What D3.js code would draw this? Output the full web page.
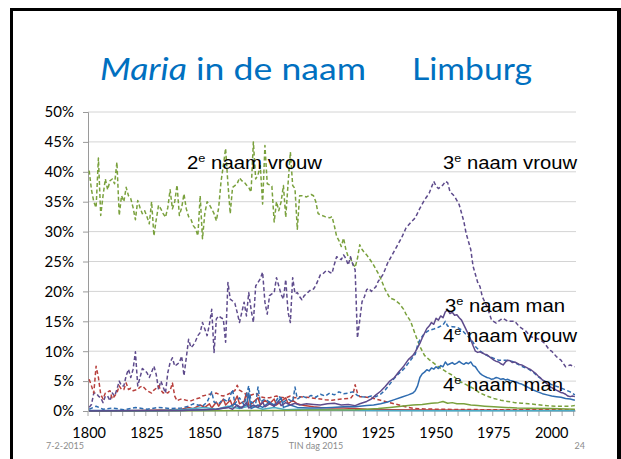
<!DOCTYPE html>
<html>
<head>
<meta charset="utf-8">
<script src="https://cdn.jsdelivr.net/npm/d3@7"></script>
<style>
  body { margin: 0; background: #fff; }
  svg { display: block; }
</style>
</head>
<body>
<svg id="chart" width="621" height="459"></svg>
<script>
// categories (years) and tick labels
const firstYear = 1800
const lastYear = 2010
const xLabels = [1800, 1825, 1850, 1875, 1900, 1925, 1950, 1975, 2000]
const yTicks = [0, 5, 10, 15, 20, 25, 30, 35, 40, 45, 50]

// [year, percent]
const vrouw1 = [[1800,5.3],[1801,4.2],[1802,3],[1803,7.5],[1804,5.6],[1805,2.8],[1806,2],[1807,3],[1808,3.2],[1809,3.4],[1810,2],[1811,2.5],[1812,3],[1813,4.2],[1814,3.6],[1815,3.6],[1816,4.7],[1817,3.6],[1818,3.8],[1819,3.4],[1820,3.5],[1821,3.6],[1822,4],[1823,4.2],[1824,3.8],[1825,3.4],[1826,3.2],[1827,3],[1828,3.5],[1829,3.8],[1830,4.2],[1831,3.5],[1832,3],[1833,3.2],[1834,3],[1835,3.4],[1836,4.7],[1837,2.5],[1838,1.7],[1839,1.9],[1840,2],[1842,1.8],[1844,1.7],[1846,2],[1848,2.2],[1849,2.5],[1851,2.7],[1852,2.8],[1854,2.9],[1855,3],[1857,2.6],[1858,2.5],[1860,2.8],[1861,3],[1863,3.4],[1864,4.3],[1865,3.5],[1867,3],[1869,2.5],[1871,2.8],[1872,3],[1874,2.4],[1876,2.2],[1878,2.2],[1880,2.4],[1881,2.5],[1883,2.3],[1885,2.2],[1887,2.5],[1889,2.2],[1891,2.4],[1894,2.3],[1898,2.1],[1902,1.9],[1905,1.8],[1909,2],[1913,2.1],[1914,2.6],[1915,4.4],[1916,3],[1917,2.4],[1920,2.3],[1923,2.1],[1926,1.8],[1928,1.6],[1931,1.3],[1934,1],[1938,0.6],[1941,0.4],[1945,0.35],[1950,0.3],[1960,0.25],[1980,0.2],[2010,0.2]]

const man1 = [[1800,0],[1820,0.1],[1835,0.2],[1840,0.3],[1843,0.6],[1845,0.4],[1848,1.0],[1850,0.6],[1852,1.2],[1853,0.5],[1855,1.5],[1856,0.8],[1858,2.0],[1859,1.0],[1861,1.8],[1862,0.8],[1864,2.5],[1865,1.2],[1867,1.6],[1868,3.0],[1869,0.8],[1871,1.5],[1873,2.2],[1874,1.0],[1876,1.8],[1878,1.2],[1880,2.0],[1881,1.0],[1883,1.6],[1885,2.2],[1886,1.2],[1888,1.8],[1890,1.2],[1893,0.9],[1897,0.7],[1900,0.6],[1905,0.5],[1910,0.5],[1915,0.4],[1920,0.3],[1930,0.2],[1950,0.15],[2010,0.1]]

const vrouw2 = [[1800,40.2],[1801,37],[1802,35],[1803,34],[1804,42.3],[1805,32.7],[1806,36],[1807,38.8],[1808,37],[1809,38.5],[1810,38.8],[1811,38],[1812,41.6],[1813,32.7],[1814,36],[1815,35],[1816,37.4],[1817,36],[1818,35.5],[1819,34],[1820,32],[1821,35.2],[1822,34],[1823,33],[1824,33.5],[1825,32.5],[1826,31.3],[1827,35],[1828,29.3],[1829,32],[1830,34.4],[1831,33.8],[1832,33],[1833,32.4],[1834,34],[1835,37],[1836,33.8],[1837,35],[1838,37.8],[1839,32.7],[1840,34],[1841,36.3],[1842,33.8],[1843,32.5],[1844,32.1],[1845,31],[1846,30.5],[1847,29.3],[1848,36],[1849,28.8],[1850,33],[1851,35],[1852,34.5],[1853,33.8],[1854,33],[1855,31.8],[1856,34],[1857,38.3],[1858,41],[1859,43.9],[1860,38],[1861,33],[1862,37.4],[1863,37.7],[1864,38],[1865,39],[1866,38.5],[1867,38.3],[1868,37.8],[1869,37.4],[1870,36.6],[1871,45],[1872,38.8],[1873,39.5],[1874,41],[1875,34.6],[1876,44.4],[1877,38],[1878,37.8],[1879,37.6],[1880,31.6],[1881,35],[1882,33.5],[1883,35],[1884,37.7],[1885,32.4],[1886,38],[1887,43.3],[1888,37.7],[1889,37.2],[1890,30.4],[1891,36],[1892,36],[1894,35.8],[1896,36.2],[1897,36],[1898,35],[1899,33],[1900,32.8],[1902,32.5],[1904,32.3],[1905,32.5],[1906,31],[1907,29.2],[1908,28.5],[1909,27.5],[1910,28.9],[1911,27],[1912,25.8],[1913,25.5],[1914,24.7],[1915,24],[1916,25.5],[1917,27.8],[1918,27],[1919,26.5],[1920,26.1],[1922,25],[1923,24.4],[1925,23],[1926,22.2],[1928,20.3],[1930,18.9],[1932,18.6],[1934,18],[1936,17],[1937,16.2],[1939,15],[1941,12.8],[1943,10.8],[1945,9.3],[1947,8.6],[1949,8],[1951,7.4],[1953,6.9],[1955,6.4],[1957,6],[1960,5],[1963,4.4],[1966,3.8],[1969,3],[1972,2.5],[1975,2.1],[1978,1.8],[1981,1.6],[1984,1.4],[1987,1.3],[1990,1.2],[1993,1.1],[1996,0.95],[1999,0.85],[2002,0.8],[2005,0.8],[2008,0.8],[2010,0.9]]

const man2 = [[1800,0],[1850,0.05],[1880,0.1],[1900,0.15],[1915,0.2],[1920,0.3],[1925,0.4],[1930,0.6],[1935,0.8],[1940,1.0],[1944,1.1],[1948,1.3],[1951,1.4],[1953,1.6],[1955,1.3],[1957,1.4],[1959,1.2],[1962,1.2],[1965,1.0],[1968,0.9],[1971,0.8],[1975,0.7],[1980,0.6],[1985,0.5],[1990,0.45],[2000,0.4],[2010,0.3]]

const vrouw3 = [[1800,0.6],[1801,1.1],[1802,3],[1803,3],[1804,2.5],[1805,2.2],[1806,1.4],[1807,2.5],[1808,2.5],[1809,1.7],[1810,3],[1811,2.5],[1812,3.6],[1813,5],[1814,4.2],[1815,4.2],[1816,5.9],[1817,7],[1818,5.6],[1819,7],[1820,9.9],[1821,4.2],[1822,5.6],[1823,7.1],[1824,6.8],[1825,6.4],[1826,5.6],[1827,6.5],[1828,7.5],[1829,6.1],[1830,3.6],[1831,5],[1832,4],[1833,3],[1834,6.4],[1835,8.1],[1836,8.9],[1837,7.5],[1838,7.8],[1839,8.1],[1840,9.2],[1841,5.9],[1842,8.9],[1843,12],[1844,10.6],[1845,11],[1846,11.7],[1847,12.6],[1848,13.1],[1849,14.8],[1850,13.7],[1851,12.6],[1852,14.5],[1853,17],[1854,9.8],[1855,15.4],[1856,15.9],[1857,15.6],[1858,15.4],[1859,11.5],[1860,21.5],[1861,18.7],[1862,18.4],[1863,18],[1864,16.5],[1865,14.8],[1866,16.5],[1867,18.2],[1868,15.9],[1869,19.8],[1870,17],[1871,14.8],[1872,20.9],[1873,21.5],[1874,22.1],[1875,23.2],[1876,18.2],[1877,16.2],[1878,19.3],[1879,19.6],[1880,19.8],[1881,22.3],[1882,20.9],[1883,19.5],[1884,18.7],[1885,22],[1886,16.5],[1887,14.8],[1888,22.3],[1889,19.6],[1890,19.8],[1891,19.1],[1892,18.6],[1893,19.3],[1894,19.6],[1895,20],[1896,20.3],[1897,20.4],[1898,21],[1899,21.9],[1900,22.8],[1901,22.9],[1902,23.3],[1903,23.5],[1904,23.2],[1905,23],[1906,24.5],[1907,25.8],[1908,25.5],[1909,25.3],[1910,26.1],[1911,25.5],[1912,24.4],[1913,25.8],[1914,24.5],[1915,23.6],[1916,12.2],[1917,15.2],[1918,18.3],[1919,19.1],[1920,20.3],[1921,20.5],[1922,20],[1923,20.4],[1924,20.8],[1925,21.7],[1926,22.2],[1927,22.8],[1928,23.7],[1929,24.7],[1931,26.1],[1933,27.5],[1935,28.9],[1937,30.6],[1939,31.5],[1941,32.3],[1943,33.9],[1945,35.3],[1947,36.4],[1949,38.4],[1950,37.6],[1951,37.2],[1953,37.8],[1954,38.4],[1955,38.2],[1956,36.7],[1958,35.9],[1960,34.5],[1962,31.7],[1963,29.7],[1965,27],[1966,24.2],[1968,21.5],[1969,20.8],[1970,19.1],[1972,17.5],[1974,15.2],[1976,14.7],[1978,15.3],[1979,15.5],[1981,15],[1984,15],[1986,14.1],[1989,13.3],[1991,12.4],[1993,12.2],[1995,11.9],[1997,11.3],[1999,10.2],[2000,10],[2002,9.1],[2004,8.5],[2006,7.4],[2008,7.7],[2010,7.4]]

const man3 = [[1800,0],[1840,0.1],[1855,0.3],[1860,0.6],[1862,0.3],[1864,1.0],[1866,0.5],[1868,1.4],[1869,0.5],[1871,1.0],[1873,0.6],[1875,1.5],[1876,0.7],[1878,1.2],[1880,0.8],[1882,1.6],[1883,0.9],[1885,1.4],[1887,1.0],[1889,1.3],[1891,1.0],[1894,1.2],[1897,1.1],[1900,1.0],[1903,1.2],[1906,1.3],[1909,1.0],[1912,1.1],[1915,0.9],[1917,1.2],[1920,1.6],[1922,2.0],[1924,2.7],[1926,3.3],[1928,4.1],[1930,5.0],[1932,5.6],[1934,6.6],[1936,7.5],[1938,8.6],[1940,9.3],[1941,9.9],[1943,11.3],[1944,12.2],[1945,13],[1946,13.8],[1947,14.2],[1948,14.8],[1949,14.5],[1950,15.5],[1951,15.2],[1952,15.9],[1953,15.6],[1954,16.6],[1955,16.9],[1956,16.3],[1957,16.5],[1958,16.0],[1959,16.1],[1960,15.6],[1961,15.2],[1962,14.4],[1963,13.6],[1964,12.8],[1965,11.9],[1966,10.9],[1967,10.0],[1968,9.8],[1969,9.9],[1970,9.7],[1971,9.5],[1972,9.4],[1973,9.1],[1974,8.8],[1975,8.5],[1976,8.3],[1977,8.2],[1978,7.9],[1979,7.7],[1980,8.2],[1981,8.5],[1982,8.4],[1983,8.1],[1984,8.2],[1985,8.0],[1986,7.8],[1987,7.7],[1988,7.5],[1989,7.3],[1990,7.1],[1991,6.9],[1992,6.6],[1993,6.3],[1994,5.9],[1995,5.6],[1996,5.2],[1997,4.9],[1998,4.5],[1999,4.1],[2000,3.9],[2001,3.7],[2002,3.5],[2003,3.3],[2004,3.1],[2005,3.0],[2006,2.8],[2007,2.5],[2008,2.4],[2009,2.5],[2010,2.4]]

const vrouw4 = [[1800,0.3],[1803,0.8],[1806,0.3],[1810,0.5],[1815,0.2],[1820,0.6],[1825,0.3],[1830,0.6],[1835,0.4],[1840,0.5],[1843,0.8],[1845,1.2],[1847,1.0],[1849,0.8],[1851,1.5],[1853,3.2],[1854,1.5],[1856,1.2],[1858,2.0],[1860,1.5],[1862,3.6],[1863,1.2],[1865,2.2],[1867,1.0],[1869,4.2],[1870,1.5],[1872,1.2],[1873,4.0],[1874,1.5],[1876,2.0],[1878,1.5],[1880,1.0],[1882,2.5],[1884,1.5],[1886,2.0],[1888,1.5],[1889,4.0],[1890,2.0],[1892,2.5],[1894,2.2],[1896,2.6],[1898,2.3],[1900,2.8],[1902,2.5],[1904,3.0],[1906,2.7],[1908,3.2],[1910,2.9],[1912,3.0],[1914,3.2],[1916,2.6],[1918,2.4],[1920,2.3],[1922,2.5],[1924,2.4],[1926,2.8],[1928,3.5],[1930,4.5],[1932,5.5],[1934,6.3],[1936,7],[1938,8],[1940,9],[1941,9.5],[1942,11],[1943,11.9],[1945,13],[1947,13.5],[1949,13.7],[1951,14],[1953,14.4],[1954,15],[1955,14.2],[1957,14.1],[1959,14],[1961,13.6],[1963,12.8],[1964,12.4],[1966,11.5],[1967,10.8],[1969,10],[1971,9.5],[1973,9.1],[1975,8.8],[1977,8.5],[1980,8.5],[1983,8.3],[1985,7.9],[1988,7.3],[1990,7],[1992,6.5],[1994,5.8],[1996,5.2],[1998,4.8],[2000,4.4],[2003,4],[2005,3.7],[2008,3.2],[2010,2.7]]

const man4 = [[1800,0.1],[1820,0.1],[1840,0.1],[1850,0.2],[1855,0.3],[1860,0.6],[1863,1.2],[1865,0.5],[1868,1.0],[1869,3.0],[1870,0.4],[1873,1.0],[1875,0.6],[1878,1.5],[1880,0.8],[1883,2.2],[1884,0.6],[1887,1.0],[1890,0.6],[1895,0.5],[1900,0.5],[1905,0.6],[1910,0.7],[1915,0.7],[1920,0.9],[1923,1.0],[1926,1.2],[1929,1.5],[1932,1.9],[1935,2.3],[1938,2.7],[1940,3.0],[1941,3.4],[1942,4.2],[1943,5.6],[1944,6.2],[1945,6.5],[1946,6.9],[1947,6.7],[1948,7.2],[1949,7.0],[1950,7.4],[1951,7.1],[1952,7.6],[1953,7.4],[1954,8.2],[1955,7.7],[1956,7.9],[1957,8.1],[1958,7.8],[1959,8.0],[1960,8.3],[1961,8.0],[1962,7.8],[1963,8.1],[1964,7.9],[1965,8.2],[1966,7.6],[1967,7.4],[1968,6.8],[1969,6.3],[1970,6.0],[1971,5.8],[1972,5.6],[1973,5.5],[1974,5.3],[1975,5.4],[1976,5.6],[1977,5.5],[1978,5.3],[1979,5.4],[1980,5.2],[1981,5.3],[1982,5.1],[1983,5.0],[1984,4.9],[1985,4.8],[1986,4.6],[1987,4.5],[1988,4.3],[1989,4.1],[1990,3.9],[1992,3.5],[1994,3.2],[1996,2.9],[1998,2.7],[2000,2.5],[2002,2.4],[2004,2.3],[2006,2.1],[2008,2.0],[2010,1.8]]

const man5 = [[1800,0],[1830,0.05],[1840,0.2],[1845,0.4],[1850,0.6],[1855,0.3],[1860,0.8],[1865,0.4],[1870,0.9],[1875,0.3],[1880,0.6],[1885,0.2],[1890,0.3],[1900,0.2],[1920,0.1],[1950,0.05],[2010,0.05]]

const annotations = [
  { num: '2', rest: ' naam vrouw', x: 187, y: 169, w: 135 },
  { num: '3', rest: ' naam vrouw', x: 443, y: 169, w: 134 },
  { num: '3', rest: ' naam man', x: 445, y: 312, w: 120 },
  { num: '4', rest: ' naam vrouw', x: 443, y: 342, w: 134 },
  { num: '4', rest: ' naam man', x: 443, y: 391, w: 120 }
]

const RED = '#B8403D'
const GREEN = '#7AA13D'
const PURPLE = '#5E4B8C'
const BLUE = '#2F6CB0'
const CYAN = '#4BACC6'

const series = [
  { values: vrouw2, color: GREEN, dashed: true },
  { values: vrouw3, color: PURPLE, dashed: true },
  { values: vrouw1, color: RED, dashed: true },
  { values: man1, color: RED, dashed: false },
  { values: man5, color: CYAN, dashed: false },
  { values: man2, color: GREEN, dashed: false },
  { values: vrouw4, color: BLUE, dashed: true },
  { values: man4, color: BLUE, dashed: false },
  { values: man3, color: PURPLE, dashed: false }
]

const margin = { top: 112, left: 88 }
const plotW = 488
const plotH = 299

const svg = d3.select('#chart')

// slide frame
svg.append('rect').attr('x', 10).attr('y', 8).attr('width', 3).attr('height', 451).attr('fill', '#000')
svg.append('rect').attr('x', 10).attr('y', 8).attr('width', 611).attr('height', 3).attr('fill', '#000')
svg.append('rect').attr('x', 617).attr('y', 8).attr('width', 4).attr('height', 451).attr('fill', '#000')

// title
const title = svg.append('text')
  .attr('x', 100).attr('y', 80)
  .attr('font-family', 'Lato, "Open Sans", sans-serif')
  .attr('font-size', 31)
  .attr('fill', '#0070C0')
title.append('tspan').attr('font-style', 'italic').text('Maria')
title.append('tspan').text(' in de naam')
title.attr('textLength', 266).attr('lengthAdjust', 'spacingAndGlyphs')

svg.append('text')
  .attr('x', 412).attr('y', 80)
  .attr('font-family', 'Lato, "Open Sans", sans-serif')
  .attr('font-size', 31)
  .attr('fill', '#0070C0')
  .attr('textLength', 120).attr('lengthAdjust', 'spacingAndGlyphs')
  .text('Limburg')

const g = svg.append('g')
  .attr('transform', 'translate(' + margin.left + ',' + margin.top + ')')

const xScale = d3.scaleLinear()
  .domain([firstYear - 0.5, lastYear + 0.5])
  .range([0, plotW])
const yScale = d3.scaleLinear().domain([0, 50]).range([plotH, 0])

// gridlines
g.append('g')
  .selectAll('line')
  .data(yTicks.filter(d => d > 0))
  .join('line')
    .attr('x1', 0).attr('x2', plotW)
    .attr('y1', d => yScale(d)).attr('y2', d => yScale(d))
    .attr('stroke', '#d4d4d4').attr('stroke-width', 1)

// y axis
const yAxis = d3.axisLeft(yScale)
  .tickValues(yTicks)
  .tickSize(5)
  .tickPadding(9)
  .tickFormat(d => d + '%')
const yG = g.append('g').call(yAxis)
yG.select('.domain').attr('stroke', '#9a9a9a')
yG.selectAll('.tick line').attr('stroke', '#9a9a9a')
yG.selectAll('.tick text')
  .attr('font-family', 'Lato, "Open Sans", sans-serif')
  .attr('font-size', 15)
  .attr('fill', '#000')

// x axis: ticks every 5 years between categories, labels every 25
const tickYears = d3.range(firstYear - 0.5, lastYear + 1, 5)
const xG = g.append('g').attr('transform', 'translate(0,' + plotH + ')')
xG.append('line')
  .attr('x1', 0).attr('x2', plotW)
  .attr('stroke', '#a9b4c2').attr('stroke-width', 1)
xG.selectAll('line.tick')
  .data(tickYears)
  .join('line')
    .attr('class', 'tick')
    .attr('x1', d => xScale(d)).attr('x2', d => xScale(d))
    .attr('y1', 0).attr('y2', 5)
    .attr('stroke', '#a6a6a6')
xG.selectAll('text')
  .data(xLabels)
  .join('text')
    .attr('x', d => xScale(d))
    .attr('y', 27)
    .attr('text-anchor', 'middle')
    .attr('font-family', 'Lato, "Open Sans", sans-serif')
    .attr('font-size', 14.5)
    .attr('fill', '#000')
    .text(d => d)

// series
const line = d3.line()
  .x(d => xScale(d[0]))
  .y(d => yScale(d[1]))

g.append('g')
  .selectAll('path')
  .data(series)
  .join('path')
    .attr('d', d => line(d.values))
    .attr('fill', 'none')
    .attr('stroke', d => d.color)
    .attr('stroke-width', 1.5)
    .attr('stroke-linejoin', 'round')
    .attr('stroke-dasharray', d => d.dashed ? '4,2.5' : null)

// annotations
annotations.forEach(a => {
  const t = svg.append('text')
    .attr('x', a.x).attr('y', a.y)
    .attr('font-family', '"Liberation Sans", Arial, sans-serif')
    .attr('font-size', 17.5)
    .attr('fill', '#000')
  t.append('tspan').text(a.num)
  t.append('tspan').attr('font-size', 11).attr('dy', -7).text('e')
  t.append('tspan').attr('dy', 7).text(a.rest)
  t.attr('textLength', a.w).attr('lengthAdjust', 'spacingAndGlyphs')
})

// footer
const footer = [
  { text: '7-2-2015', x: 46, anchor: 'start' },
  { text: 'TIN dag 2015', x: 316, anchor: 'middle' },
  { text: '24', x: 585, anchor: 'end' }
]
svg.append('g')
  .selectAll('text')
  .data(footer)
  .join('text')
    .attr('x', d => d.x)
    .attr('y', 449)
    .attr('text-anchor', d => d.anchor)
    .attr('font-family', 'Lato, "Open Sans", sans-serif')
    .attr('font-size', 9)
    .attr('fill', '#8c8c8c')
    .text(d => d.text)
</script>
</body>
</html>
